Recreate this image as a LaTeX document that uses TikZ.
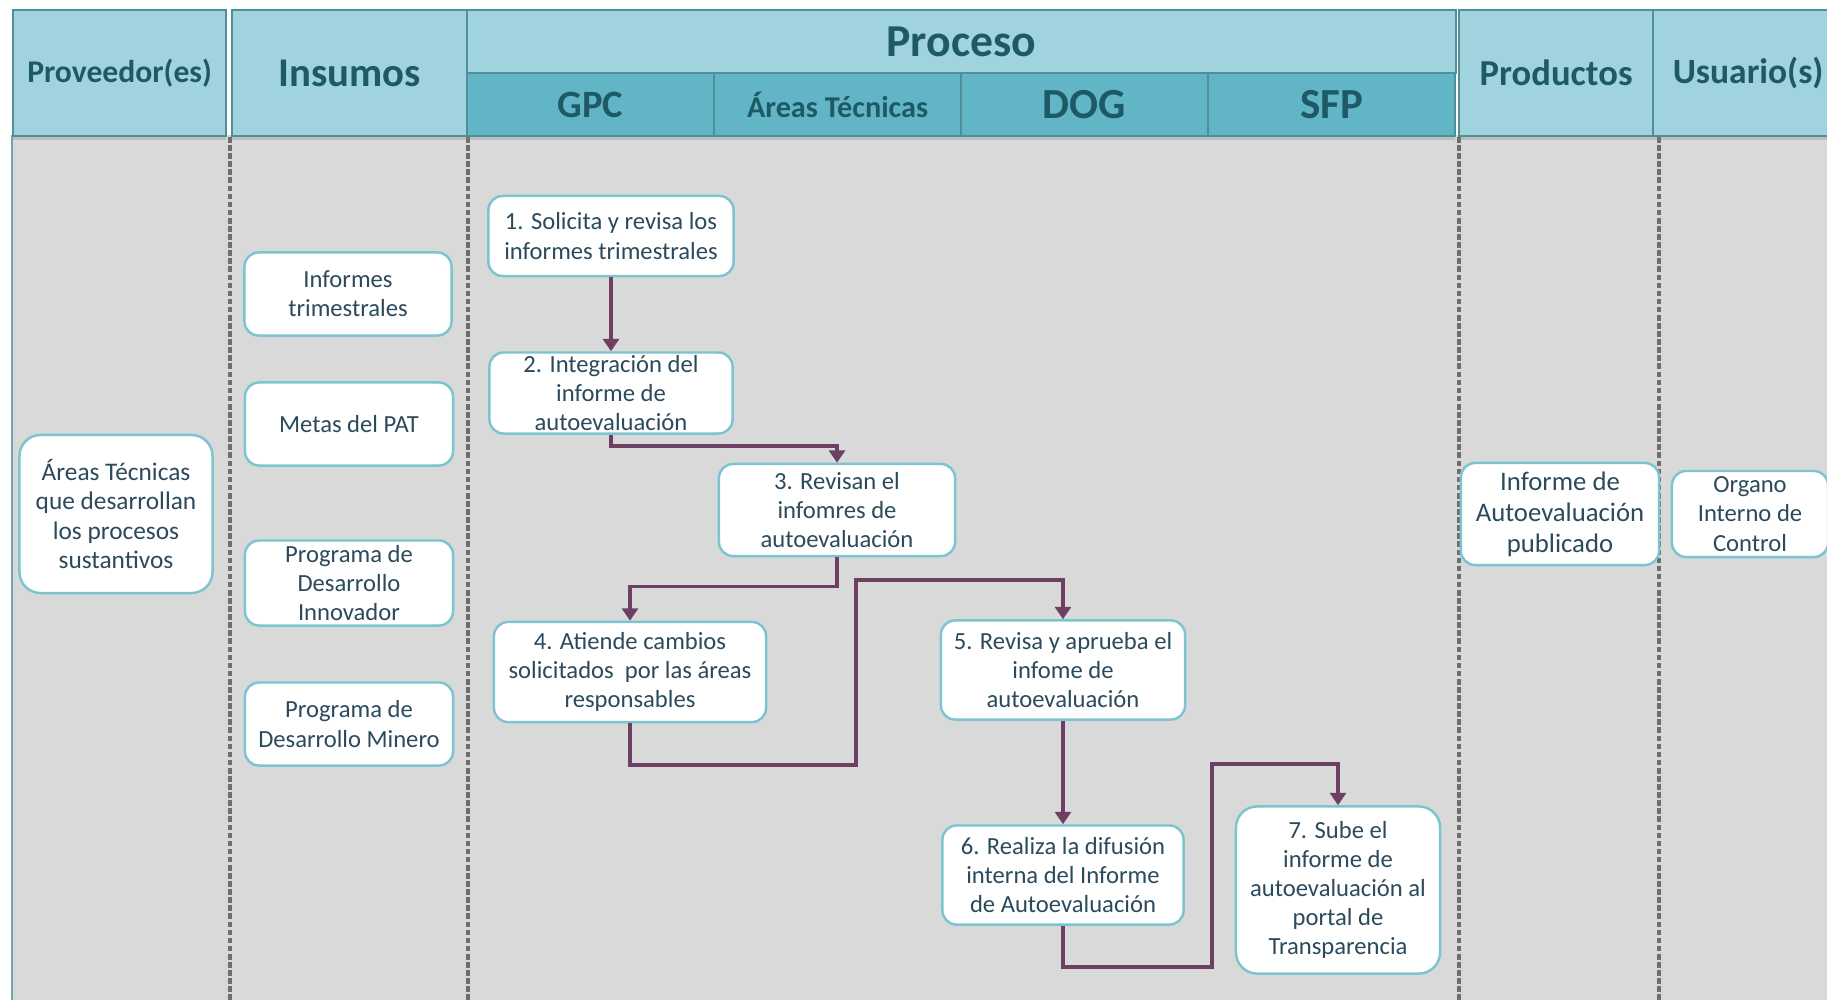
\documentclass[tikz,border=0pt]{standalone}
\usepackage{fontspec}
\setmainfont{Carlito}
\usetikzlibrary{positioning, arrows.meta, calc, shadows}

\definecolor{hdrlight}{HTML}{A1D3DF}
\definecolor{hdrdark}{HTML}{62B5C7}
\definecolor{hdrline}{HTML}{4F8F9A}
\definecolor{hdrtext}{HTML}{1E5A66}
\definecolor{boxline}{HTML}{7CC4D2}
\definecolor{boxtext}{HTML}{2B4A5C}
\definecolor{flowcol}{HTML}{6D3F63}
\definecolor{bggray}{HTML}{D9D9D9}
\definecolor{sepgray}{HTML}{6E6E6E}

\begin{document}
\begin{tikzpicture}[x=0.01cm, y=-0.01cm, >={Triangle[width=4.5pt,length=3.5pt]},
  head/.style={draw=hdrline, line width=0.6pt, fill=hdrlight, text=hdrtext,
    inner sep=0pt, anchor=north west,
    drop shadow={shadow xshift=0pt, shadow yshift=-1.2pt, opacity=0.3}},
  subhead/.style={head, fill=hdrdark},
  stepbox/.style={draw=boxline, line width=0.7pt, fill=white, rounded corners=4pt,
    text=boxtext, align=center, inner sep=0pt, font=\fontsize{7}{8.3}\selectfont},
  flow/.style={->, draw=flowcol, line width=1pt},
  lane/.style={draw=sepgray, line width=1.3pt, dash pattern=on 1.6pt off 0.7pt}]

\useasboundingbox (0,0) rectangle (1827,1000);

% --- Background ---
\fill[bggray] (12,135) rectangle (1827,1000);
\draw[hdrline!80, line width=0.8pt] (12,135) -- (12,1000);
\foreach \x in {230,468,1459,1659}
  \draw[lane] (\x,137) -- (\x,1000);

% --- Header ---
\node[head, minimum width=2.13cm, minimum height=1.26cm,
  font=\bfseries\fontsize{9}{11}\selectfont] (prov) at (12,9) {Proveedor(es)};
\node[head, minimum width=2.35cm, minimum height=1.26cm,
  font=\bfseries\fontsize{11.6}{13}\selectfont] (ins) at (231,9) {Insumos};
\node[head, minimum width=9.88cm, minimum height=0.63cm,
  font=\bfseries\fontsize{13}{15}\selectfont] (proc) at (466,9) {Proceso};
\node[subhead, minimum width=2.47cm, minimum height=0.63cm,
  font=\bfseries\fontsize{11}{13}\selectfont] (gpc) at (466,72) {GPC};
\node[subhead, minimum width=2.47cm, minimum height=0.63cm,
  font=\bfseries\fontsize{8.6}{10}\selectfont] (areas) at (713,72) {Áreas Técnicas};
\node[subhead, minimum width=2.47cm, minimum height=0.63cm,
  font=\bfseries\fontsize{12.2}{14}\selectfont] (dog) at (960,72) {DOG};
\node[subhead, minimum width=2.47cm, minimum height=0.63cm,
  font=\bfseries\fontsize{12.2}{14}\selectfont] (sfp) at (1207,72) {SFP};
\node[head, minimum width=1.94cm, minimum height=1.26cm,
  font=\bfseries\fontsize{10.4}{12}\selectfont] (prod) at (1458,9) {Productos};
\node[head, minimum width=1.90cm, minimum height=1.26cm,
  font=\bfseries\fontsize{10.1}{12}\selectfont] (usu) at (1652,9) {Usuario(s)};

% --- Proveedores ---
\node[stepbox, rounded corners=6pt, minimum width=1.93cm, minimum height=1.58cm,
  font=\fontsize{7.2}{8.4}\selectfont] (tecnicas) at (116,514)
  {Áreas Técnicas\\que desarrollan\\los procesos\\sustantivos};

% --- Insumos ---
\node[stepbox, minimum width=2.07cm, minimum height=0.83cm] (informes) at (348,294)
  {Informes\\trimestrales};
\node[stepbox, minimum width=2.08cm, minimum height=0.83cm] (metas) at (349,424)
  {Metas del PAT};
\node[stepbox, minimum width=2.08cm, minimum height=0.85cm] (innovador) at (349,583)
  {Programa de\\Desarrollo\\Innovador};
\node[stepbox, minimum width=2.08cm, minimum height=0.83cm] (minero) at (349,724)
  {Programa de\\Desarrollo Minero};

% --- Proceso ---
\node[stepbox, minimum width=2.45cm, minimum height=0.80cm] (s1) at (611,236)
  {1. Solicita y revisa los\\informes trimestrales};
\node[stepbox, minimum width=2.43cm, minimum height=0.81cm] (s2) at (611,393)
  {2. Integración del\\informe de\\autoevaluación};
\node[stepbox, minimum width=2.36cm, minimum height=0.92cm] (s3) at (837,510)
  {3. Revisan el\\infomres de\\autoevaluación};
\node[stepbox, minimum width=2.72cm, minimum height=1.00cm] (s4) at (630,672)
  {4. Atiende cambios\\solicitados\ \ por las áreas\\responsables};
\node[stepbox, minimum width=2.44cm, minimum height=0.99cm] (s5) at (1063,670)
  {5. Revisa y aprueba el\\infome de\\autoevaluación};
\node[stepbox, minimum width=2.41cm, minimum height=0.99cm] (s6) at (1063,875)
  {6. Realiza la difusión\\interna del Informe\\de Autoevaluación};
\node[stepbox, rounded corners=6pt, minimum width=2.04cm, minimum height=1.67cm] (s7) at (1338,890)
  {7. Sube el\\informe de\\autoevaluación al\\portal de\\Transparencia};

% --- Productos y usuarios ---
\node[stepbox, minimum width=1.98cm, minimum height=1.02cm,
  font=\fontsize{7.6}{8.8}\selectfont] (publicado) at (1560,514)
  {Informe de\\Autoevaluación\\publicado};
\node[stepbox, minimum width=1.56cm, minimum height=0.86cm] (oic) at (1750,514)
  {Organo\\Interno de\\Control};

% --- Flujo ---
\coordinate (b45) at (856,765);
\coordinate (t45) at (856,580);
\coordinate (b67) at (1212,967);
\coordinate (t67) at (1212,764);

\draw[flow] (s1) -- (s2);
\draw[flow] (s2.south) -- ++(0,11) -| (s3.north);
\draw[flow] (s3.south) -- ++(0,29) -| (s4.north);
\draw[flow] (s4.south) |- (b45) -- (t45) -| (s5.north);
\draw[flow] (s5) -- (s6);
\draw[flow] (s6.south) |- (b67) -- (t67) -| (s7.north);

\end{tikzpicture}
\end{document}
